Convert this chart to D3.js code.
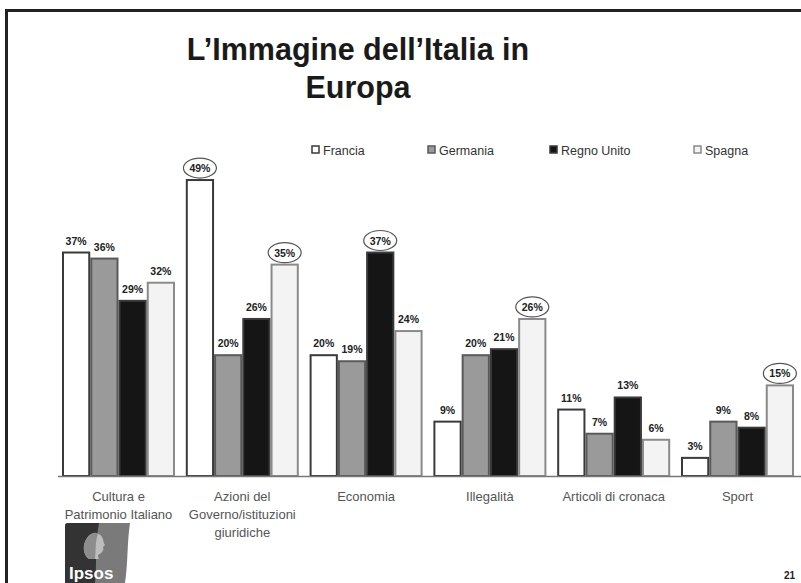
<!DOCTYPE html>
<html>
<head>
<meta charset="utf-8">
<script src="https://cdn.jsdelivr.net/npm/d3@7"></script>
<style>
  html, body { margin: 0; padding: 0; background: #fff; }
  svg { display: block; }
</style>
</head>
<body>
<svg id="chart" width="801" height="583"></svg>
<script>
// Categories (multi-line labels) and series
const categories = [
  ["Cultura e", "Patrimonio Italiano"],
  ["Azioni del", "Governo/istituzioni", "giuridiche"],
  ["Economia"],
  ["Illegalità"],
  ["Articoli di cronaca"],
  ["Sport"]
];
const seriesNames = ["Francia", "Germania", "Regno Unito", "Spagna"];

// Percentages per country, one value per category
const francia    = [37, 49, 20,  9, 11,  3];
const germania   = [36, 20, 19, 20,  7,  9];
const regnoUnito = [29, 26, 37, 21, 13,  8];
const spagna     = [32, 35, 24, 26,  6, 15];

// Values that are highlighted with an ellipse: [series index, category index]
const highlighted = [[0, 1], [3, 1], [2, 2], [3, 3], [3, 5]];

const seriesValues = [francia, germania, regnoUnito, spagna];
const fills   = ["#ffffff", "#9a9a9a", "#151515", "#f3f3f3"];
const strokes = ["#3a3a3a", "#5a5a5a", "#3a3a3a", "#8a8a8a"];

const svg = d3.select("#chart");
const font = "'Liberation Sans', Arial, sans-serif";

// Frame
svg.append("path")
  .attr("d", "M6.5,583 L6.5,10.5 L801,10.5")
  .attr("fill", "none").attr("stroke", "#222").attr("stroke-width", 3);

// Title
const title = svg.append("text")
  .attr("text-anchor", "middle")
  .attr("font-family", font).attr("font-weight", "bold")
  .attr("font-size", 30.5).attr("fill", "#1a1a1a");
title.append("tspan").attr("x", 358).attr("y", 60).text("L’Immagine dell’Italia in");
title.append("tspan").attr("x", 358).attr("y", 98).text("Europa");

// Scales
const labelsKey = categories.map(c => c.join(" "));
const x0 = d3.scaleBand().domain(labelsKey).range([56.6, 799.4])
  .paddingInner(0.0872).paddingOuter(0.0436);
const x1 = d3.scaleBand().domain(seriesNames).range([0, x0.bandwidth()]);
const y = d3.scaleLinear().domain([0, 50]).range([476, 174]);

// Legend
const legendX = [312, 428, 550, 694];
const legend = svg.append("g");
seriesNames.forEach((name, i) => {
  legend.append("rect")
    .attr("x", legendX[i]).attr("y", 146)
    .attr("width", 7).attr("height", 7)
    .attr("fill", fills[i]).attr("stroke", strokes[i]).attr("stroke-width", 1.5);
  legend.append("text")
    .attr("x", legendX[i] + 11).attr("y", 154.5)
    .attr("font-family", font).attr("font-size", 12.5)
    .attr("fill", "#333").text(name);
});

// Bars
const groups = svg.append("g").selectAll("g")
  .data(labelsKey)
  .join("g")
  .attr("transform", d => `translate(${x0(d)},0)`);

groups.each(function(cat, ci) {
  const g = d3.select(this);
  seriesNames.forEach((s, si) => {
    const v = seriesValues[si][ci];
    const bx = x1(s), bw = x1.bandwidth();
    g.append("rect")
      .attr("x", bx + 1).attr("y", y(v))
      .attr("width", bw - 2).attr("height", y(0) - y(v))
      .attr("fill", fills[si]).attr("stroke", strokes[si]).attr("stroke-width", 2);
    const cx = bx + bw / 2;
    const isHi = highlighted.some(h => h[0] === si && h[1] === ci);
    if (isHi) {
      g.append("ellipse")
        .attr("cx", cx).attr("cy", y(v) - 12)
        .attr("rx", 16.5).attr("ry", 10)
        .attr("fill", "#fff").attr("stroke", "#555").attr("stroke-width", 1.2);
    }
    g.append("text")
      .attr("x", cx).attr("y", y(v) - 8)
      .attr("text-anchor", "middle")
      .attr("font-family", font).attr("font-weight", "bold")
      .attr("font-size", 10.5).attr("fill", "#222")
      .text(v + "%");
  });
});

// Baseline
svg.append("line")
  .attr("x1", 58).attr("x2", 801)
  .attr("y1", y(0) + 0.5).attr("y2", y(0) + 0.5)
  .attr("stroke", "#777").attr("stroke-width", 1.5);

// Category labels
categories.forEach((lines, i) => {
  const t = svg.append("text")
    .attr("text-anchor", "middle")
    .attr("font-family", font).attr("font-size", 13)
    .attr("fill", "#555");
  lines.forEach((ln, j) => {
    t.append("tspan")
      .attr("x", x0(labelsKey[i]) + x0.bandwidth() / 2)
      .attr("y", 501 + j * 18)
      .text(ln);
  });
});

// Ipsos logo
const logo = svg.append("g").attr("transform", "translate(65,523)");
logo.append("path")
  .attr("d", "M3,0 L65,0 C62,20 63,40 60,60 L0,60 L0,3 Q0,0 3,0 Z")
  .attr("fill", "#7a7a7a");
logo.append("path")
  .attr("d", "M3,0 L34,0 C30,20 32,40 30,60 L0,60 L0,3 Q0,0 3,0 Z")
  .attr("fill", "#333");
// profile silhouette
logo.append("path")
  .attr("d", "M24,36 C18,32 17,22 22,15 C26,9 34,9 37,14 C39,17 38,20 40,22 L38,24 C39,26 38,28 37,29 C36,31 33,31 33,33 L34,36 Z")
  .attr("fill", "#bdbdbd");
logo.append("path")
  .attr("d", "M24,36 C18,32 17,22 22,15 C26,9 31,9 33,11 C30,18 31,28 30,36 Z")
  .attr("fill", "#8d8d8d");
logo.append("text")
  .attr("x", 4).attr("y", 56)
  .attr("font-family", font).attr("font-size", 17).attr("font-weight", "bold")
  .attr("fill", "#fff").text("Ipsos");

// Page number
svg.append("text")
  .attr("x", 795).attr("y", 579)
  .attr("text-anchor", "end")
  .attr("font-family", font).attr("font-weight", "bold")
  .attr("font-size", 10).attr("fill", "#222").text("21");
</script>
</body>
</html>
